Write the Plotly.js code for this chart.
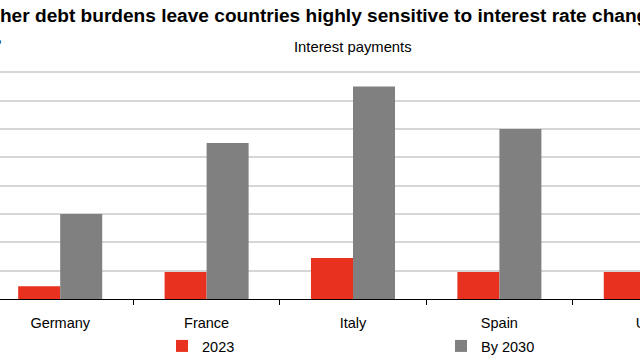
<!DOCTYPE html>
<html>
<head>
<meta charset="utf-8">
<script src="https://cdn.plot.ly/plotly-3.0.1.min.js"></script>
<style>
html,body{margin:0;padding:0;width:640px;height:360px;overflow:hidden;background:#fff;}
#chart{position:absolute;left:-100px;top:0;width:900px;height:360px;}
</style>
</head>
<body>
<div id="chart"></div>
<script>
const countries = ["Germany", "France", "Italy", "Spain", "UK"];
const values2023 = [0.45, 0.95, 1.45, 0.95, 0.95];
const values2030 = [3.0, 5.5, 7.5, 6.0, 4.5];
const seriesNames = ["2023", "By 2030"];
const yTicks = [0, 1, 2, 3, 4, 5, 6, 7, 8];

const FONT = "'Liberation Sans', Arial, sans-serif";

const traces = [
  {type: "bar", x: countries, y: values2023, name: seriesNames[0],
   marker: {color: "#e8321f"}, legend: "legend"},
  {type: "bar", x: countries, y: values2030, name: seriesNames[1],
   marker: {color: "#808080"}, legend: "legend2"}
];

const legendBase = {orientation: "h", xanchor: "left", yref: "container", y: 1 - 346/360, yanchor: "middle",
  xref: "container", font: {family: FONT, size: 14.5, color: "#000000"},
  bgcolor: "rgba(0,0,0,0)", borderwidth: 0};

const layout = {
  width: 900, height: 360,
  margin: {l: 87, r: 81, t: 70, b: 61, pad: 0, autoexpand: false},
  paper_bgcolor: "#ffffff", plot_bgcolor: "#ffffff",
  font: {family: FONT, size: 14.5, color: "#000000"},
  barmode: "group", bargap: 0.426, bargroupgap: 0,
  title: {
    text: "Higher debt burdens leave countries highly sensitive to interest rate changes",
    font: {family: FONT, size: 19.1, color: "#000000", weight: "bold"},
    xref: "container", x: 69.2/900, xanchor: "left",
    yref: "container", y: 1 - 15/360, yanchor: "middle"
  },
  xaxis: {
    type: "category", showgrid: false, showline: true, linecolor: "#000000", linewidth: 1,
    ticks: "outside", tickson: "boundaries", ticklen: 5, tickcolor: "#000000", tickwidth: 1,
    ticklabelstandoff: 11, automargin: false,
    tickfont: {family: FONT, size: 14.5, color: "#000000"}, fixedrange: true
  },
  yaxis: {
    range: [0, 8.08], tickvals: yTicks, showgrid: true, gridcolor: "#d6d6d6", gridwidth: 2,
    zeroline: false, showline: false, ticks: "", automargin: false,
    tickfont: {family: FONT, size: 14.5, color: "#000000"}, fixedrange: true
  },
  showlegend: true,
  legend: Object.assign({}, legendBase, {x: 262/900}),
  legend2: Object.assign({}, legendBase, {x: 541/900}),
  annotations: [
    {text: "Interest payments", xref: "paper", x: 0.5, xanchor: "center",
     yref: "paper", y: (299-47)/229, yanchor: "middle", showarrow: false,
     font: {family: FONT, size: 14.8, color: "#000000"}},
    {text: "% of GDP", xref: "paper", x: (103-87)/732, xanchor: "right",
     yref: "paper", y: (299-44)/229, yanchor: "middle", showarrow: false,
     font: {family: FONT, size: 14.5, color: "#000000"}}
  ]
};

Plotly.newPlot("chart", traces, layout, {displayModeBar: false, staticPlot: true});
</script>
</body>
</html>
